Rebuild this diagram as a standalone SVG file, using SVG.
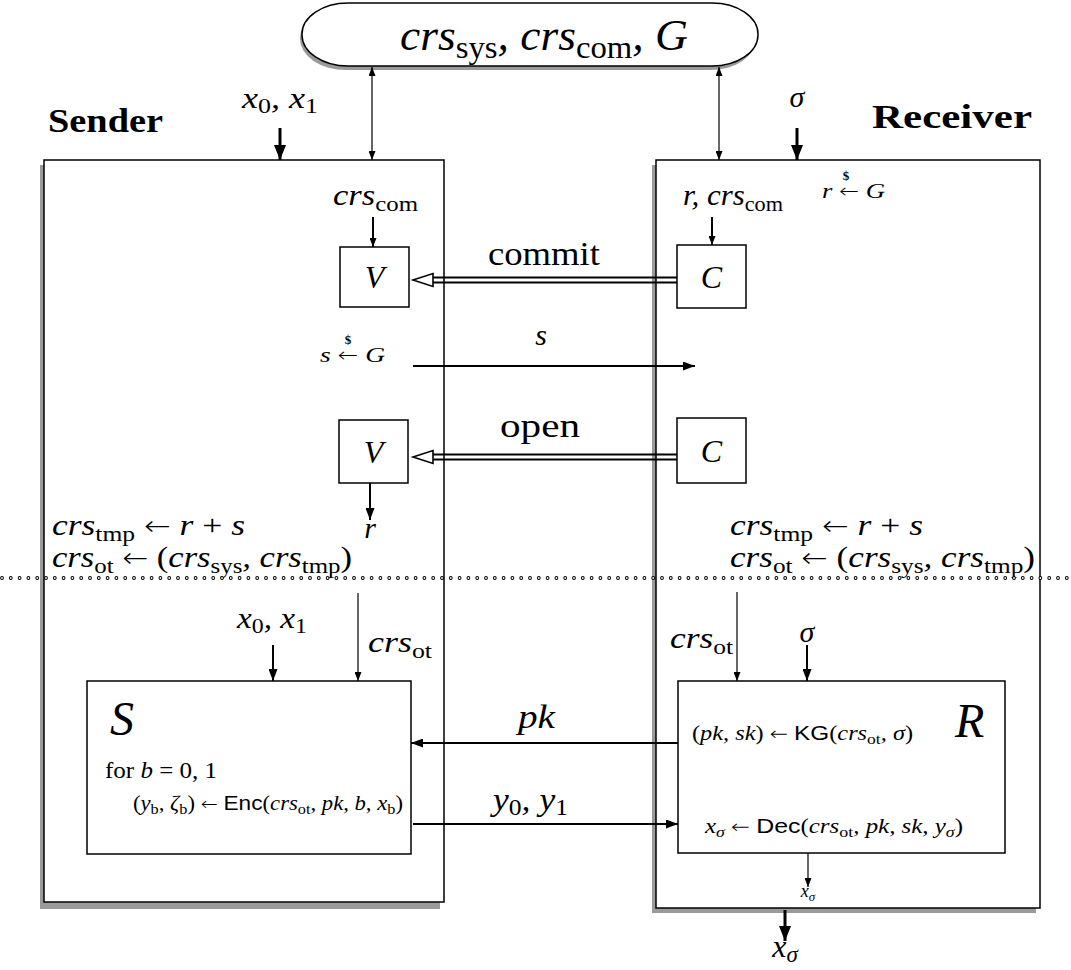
<svg xmlns="http://www.w3.org/2000/svg" width="1071" height="970" viewBox="0 0 1071 970">
<defs>
<style>
text{font-family:"Liberation Serif","Times New Roman",serif;fill:#000}
.mi{font-style:italic}
.rm{font-style:normal}
.ar{font-family:"DejaVu Sans ExtraLight","DejaVu Sans",sans-serif;font-weight:200;font-style:normal}
.sf{font-family:"Liberation Sans",Arial,sans-serif;font-style:normal}
.bf{font-weight:bold}
.box{fill:#fff;stroke:#000;stroke-width:1.5}
.shadow{fill:#9a9a9a}
.ln{fill:none;stroke:#000;stroke-width:1.2}
.md{fill:none;stroke:#000;stroke-width:2}
.tk{fill:none;stroke:#000;stroke-width:3}
</style>
<marker id="aThin" markerUnits="userSpaceOnUse" viewBox="0 0 9 7" refX="9" refY="3.5" markerWidth="9" markerHeight="7" orient="auto-start-reverse"><path d="M0,0 L9,3.5 L0,7 z" fill="#000"/></marker>
<marker id="aMed" markerUnits="userSpaceOnUse" viewBox="0 0 12 9" refX="12" refY="4.5" markerWidth="12" markerHeight="9" orient="auto"><path d="M0,0 L12,4.5 L0,9 z" fill="#000"/></marker>
<marker id="aThick" markerUnits="userSpaceOnUse" viewBox="0 0 15 12" refX="15" refY="6" markerWidth="15" markerHeight="12" orient="auto"><path d="M0,0 L15,6 L0,12 z" fill="#000"/></marker>
</defs>
<rect width="1071" height="970" fill="#fff"/>

<g id="params">
<rect class="shadow" x="300" y="7" width="456" height="63" rx="46" ry="31"/>
<rect class="box" x="302" y="3" width="456" height="63" rx="46" ry="31"/>
<text class="mi" x="400" y="50" font-size="44" textLength="288" lengthAdjust="spacingAndGlyphs">crs<tspan class="rm" font-size="0.72em" dy="8">sys</tspan><tspan dy="-8">, crs</tspan><tspan class="rm" font-size="0.72em" dy="8">com</tspan><tspan dy="-8">, G</tspan></text>
</g>

<g id="sender">
<rect class="shadow" x="40" y="165" width="400" height="744"/>
<rect class="box" x="44" y="160" width="400" height="742"/>
<text class="bf" x="48" y="132" font-size="34" textLength="115" lengthAdjust="spacingAndGlyphs">Sender</text>
<text class="mi" x="242" y="108" font-size="30" textLength="76" lengthAdjust="spacingAndGlyphs">x<tspan class="rm" font-size="0.72em" dy="5">0</tspan><tspan dy="-5">, x</tspan><tspan class="rm" font-size="0.72em" dy="5">1</tspan></text>
<text class="mi" x="333" y="205" font-size="30" textLength="85" lengthAdjust="spacingAndGlyphs">crs<tspan class="rm" font-size="0.72em" dy="6">com</tspan></text>
<text class="mi" x="320" y="362" font-size="22" textLength="65" lengthAdjust="spacingAndGlyphs">s <tspan class="ar" font-size="0.9em">←</tspan> G</text>
<text class="rm" x="348" y="344" font-size="13" text-anchor="middle" font-weight="bold">$</text>
<text class="mi" x="52" y="535" font-size="30" textLength="193" lengthAdjust="spacingAndGlyphs">crs<tspan class="rm" font-size="0.72em" dy="6">tmp</tspan><tspan dy="-6"> <tspan class="ar" font-size="0.9em">←</tspan> r <tspan class="rm">+</tspan> s</tspan></text>
<text class="mi" x="52" y="567" font-size="30" textLength="300" lengthAdjust="spacingAndGlyphs">crs<tspan class="rm" font-size="0.72em" dy="6">ot</tspan><tspan dy="-6"> <tspan class="ar" font-size="0.9em">←</tspan> <tspan class="rm">(</tspan>crs</tspan><tspan class="rm" font-size="0.72em" dy="6">sys</tspan><tspan dy="-6">, crs</tspan><tspan class="rm" font-size="0.72em" dy="6">tmp</tspan><tspan class="rm" dy="-6">)</tspan></text>
<text class="mi" x="237" y="628" font-size="30" textLength="70" lengthAdjust="spacingAndGlyphs">x<tspan class="rm" font-size="0.72em" dy="5">0</tspan><tspan dy="-5">, x</tspan><tspan class="rm" font-size="0.72em" dy="5">1</tspan></text>
<text class="mi" x="368" y="652" font-size="30" textLength="64" lengthAdjust="spacingAndGlyphs">crs<tspan class="rm" font-size="0.72em" dy="6">ot</tspan></text>
</g>

<g id="V1">
<rect class="box" x="340" y="247" width="69" height="60"/>
<text class="mi" x="374.5" y="288" font-size="32" text-anchor="middle">V</text>
</g>
<g id="V2">
<rect class="box" x="339" y="420" width="69" height="63"/>
<text class="mi" x="373.5" y="463" font-size="32" text-anchor="middle">V</text>
</g>

<g id="receiver">
<rect class="shadow" x="652" y="165" width="384" height="748"/>
<rect class="box" x="656" y="160" width="384" height="748"/>
<text class="bf" x="872" y="128" font-size="34" textLength="160" lengthAdjust="spacingAndGlyphs">Receiver</text>
<text class="mi" x="797" y="107" font-size="30" text-anchor="middle">σ</text>
<text class="mi" x="683" y="205" font-size="29" textLength="100" lengthAdjust="spacingAndGlyphs">r, crs<tspan class="rm" font-size="0.72em" dy="6">com</tspan></text>
<text class="mi" x="822" y="198" font-size="22" textLength="63" lengthAdjust="spacingAndGlyphs">r <tspan class="ar" font-size="0.9em">←</tspan> G</text>
<text class="rm" x="846" y="180" font-size="13" text-anchor="middle" font-weight="bold">$</text>
<text class="mi" x="730" y="535" font-size="30" textLength="193" lengthAdjust="spacingAndGlyphs">crs<tspan class="rm" font-size="0.72em" dy="6">tmp</tspan><tspan dy="-6"> <tspan class="ar" font-size="0.9em">←</tspan> r <tspan class="rm">+</tspan> s</tspan></text>
<text class="mi" x="730" y="567" font-size="30" textLength="305" lengthAdjust="spacingAndGlyphs">crs<tspan class="rm" font-size="0.72em" dy="6">ot</tspan><tspan dy="-6"> <tspan class="ar" font-size="0.9em">←</tspan> <tspan class="rm">(</tspan>crs</tspan><tspan class="rm" font-size="0.72em" dy="6">sys</tspan><tspan dy="-6">, crs</tspan><tspan class="rm" font-size="0.72em" dy="6">tmp</tspan><tspan class="rm" dy="-6">)</tspan></text>
<text class="mi" x="670" y="648" font-size="30" textLength="63" lengthAdjust="spacingAndGlyphs">crs<tspan class="rm" font-size="0.72em" dy="6">ot</tspan></text>
<text class="mi" x="807" y="642" font-size="30" text-anchor="middle">σ</text>
<text class="mi" x="808" y="897" font-size="18" text-anchor="middle">x<tspan font-size="0.72em" dy="4">σ</tspan></text>
<text class="mi" x="785" y="957" font-size="32" text-anchor="middle">x<tspan font-size="0.72em" dy="5">σ</tspan></text>
</g>

<g id="C1">
<rect class="box" x="677" y="245" width="69" height="63"/>
<text class="mi" x="711.5" y="288" font-size="32" text-anchor="middle">C</text>
</g>
<g id="C2">
<rect class="box" x="677" y="418" width="69" height="65"/>
<text class="mi" x="711.5" y="462" font-size="32" text-anchor="middle">C</text>
</g>

<g id="S">
<rect class="box" x="87" y="681" width="324" height="173"/>
<text class="mi" x="110" y="735" font-size="48">S</text>
<text class="rm" x="105" y="778" font-size="24" textLength="112" lengthAdjust="spacingAndGlyphs">for <tspan class="mi">b</tspan> = 0, 1</text>
<text class="mi" x="133" y="810" font-size="20" textLength="270" lengthAdjust="spacingAndGlyphs"><tspan class="rm">(</tspan>y<tspan class="rm" font-size="0.72em" dy="4">b</tspan><tspan dy="-4">, ζ</tspan><tspan class="rm" font-size="0.72em" dy="4">b</tspan><tspan class="rm" dy="-4">) <tspan class="ar" font-size="0.9em">←</tspan> </tspan><tspan class="sf">Enc</tspan><tspan class="rm">(</tspan>crs<tspan class="rm" font-size="0.72em" dy="4">ot</tspan><tspan dy="-4">, pk, b, x</tspan><tspan class="rm" font-size="0.72em" dy="4">b</tspan><tspan class="rm" dy="-4">)</tspan></text>
</g>

<g id="R">
<rect class="box" x="678" y="681" width="327" height="172"/>
<text class="mi" x="955" y="737" font-size="48">R</text>
<text class="mi" x="692" y="740" font-size="21" textLength="221" lengthAdjust="spacingAndGlyphs"><tspan class="rm">(</tspan>pk, sk<tspan class="rm">) <tspan class="ar" font-size="0.9em">←</tspan> </tspan><tspan class="sf">KG</tspan><tspan class="rm">(</tspan>crs<tspan class="rm" font-size="0.72em" dy="4">ot</tspan><tspan dy="-4">, σ</tspan><tspan class="rm">)</tspan></text>
<text class="mi" x="705" y="833" font-size="21" textLength="258" lengthAdjust="spacingAndGlyphs">x<tspan font-size="0.72em" dy="4">σ</tspan><tspan class="rm" dy="-4"> <tspan class="ar" font-size="0.9em">←</tspan> </tspan><tspan class="sf">Dec</tspan><tspan class="rm">(</tspan>crs<tspan class="rm" font-size="0.72em" dy="4">ot</tspan><tspan dy="-4">, pk, sk, y</tspan><tspan font-size="0.72em" dy="4">σ</tspan><tspan class="rm" dy="-4">)</tspan></text>
</g>

<g id="separator">
<path d="M2,578 H1071" fill="none" stroke="#000" stroke-width="3.8" stroke-linecap="round" stroke-dasharray="0 8.8"/>
<path d="M2,578 H1071" fill="none" stroke="#fff" stroke-width="1.8" stroke-linecap="round" stroke-dasharray="0 8.8"/>
</g>

<g id="connectors">
<line class="ln" x1="372" y1="67" x2="372" y2="160" marker-start="url(#aThin)" marker-end="url(#aThin)"/>
<line class="ln" x1="719" y1="67" x2="719" y2="160" marker-start="url(#aThin)" marker-end="url(#aThin)"/>
<line class="tk" x1="280" y1="128" x2="280" y2="160" marker-end="url(#aThick)"/>
<line class="tk" x1="797" y1="128" x2="797" y2="160" marker-end="url(#aThick)"/>
<line class="md" x1="373" y1="217" x2="373" y2="247" marker-end="url(#aThin)"/>
<line class="md" x1="712" y1="217" x2="712" y2="245" marker-end="url(#aThin)"/>
<g id="commit">
<path class="md" d="M432,277.5 H677 M432,282.5 H677" stroke-width="1.6"/>
<polygon points="413,280 433,273.5 433,286.5" fill="#fff" stroke="#000" stroke-width="1.6"/>
<text class="rm" x="488" y="265" font-size="33" textLength="112" lengthAdjust="spacingAndGlyphs">commit</text>
</g>
<g id="s-msg">
<line class="md" x1="413" y1="366" x2="695" y2="366" marker-end="url(#aMed)"/>
<text class="mi" x="541" y="345" font-size="30" text-anchor="middle">s</text>
</g>
<g id="open">
<path class="md" d="M432,454.5 H677 M432,459.5 H677" stroke-width="1.6"/>
<polygon points="413,457 433,450.5 433,463.5" fill="#fff" stroke="#000" stroke-width="1.6"/>
<text class="rm" x="500" y="437" font-size="33" textLength="80" lengthAdjust="spacingAndGlyphs">open</text>
</g>
<line class="md" x1="370" y1="483" x2="370" y2="520" marker-end="url(#aMed)"/>
<text class="mi" x="370" y="538" font-size="30" text-anchor="middle">r</text>
<line class="md" x1="273" y1="645" x2="273" y2="681" marker-end="url(#aMed)"/>
<line class="ln" x1="358" y1="593" x2="358" y2="681" marker-end="url(#aThin)"/>
<line class="ln" x1="737" y1="592" x2="737" y2="681" marker-end="url(#aThin)"/>
<line class="md" x1="807" y1="645" x2="807" y2="681" marker-end="url(#aMed)"/>
<g id="pk-msg">
<line class="md" x1="678" y1="743" x2="411" y2="743" marker-end="url(#aMed)"/>
<text class="mi" x="518" y="728" font-size="33" textLength="37" lengthAdjust="spacingAndGlyphs">pk</text>
</g>
<g id="y-msg">
<line class="md" x1="413" y1="824" x2="678" y2="824" marker-end="url(#aMed)"/>
<text class="mi" x="493" y="810" font-size="32" textLength="75" lengthAdjust="spacingAndGlyphs">y<tspan class="rm" font-size="0.72em" dy="5">0</tspan><tspan dy="-5">, y</tspan><tspan class="rm" font-size="0.72em" dy="5">1</tspan></text>
</g>
<line class="ln" x1="808" y1="853" x2="808" y2="887" marker-end="url(#aThin)"/>
<line class="tk" x1="785" y1="910" x2="785" y2="941" marker-end="url(#aThick)"/>
</g>
</svg>
